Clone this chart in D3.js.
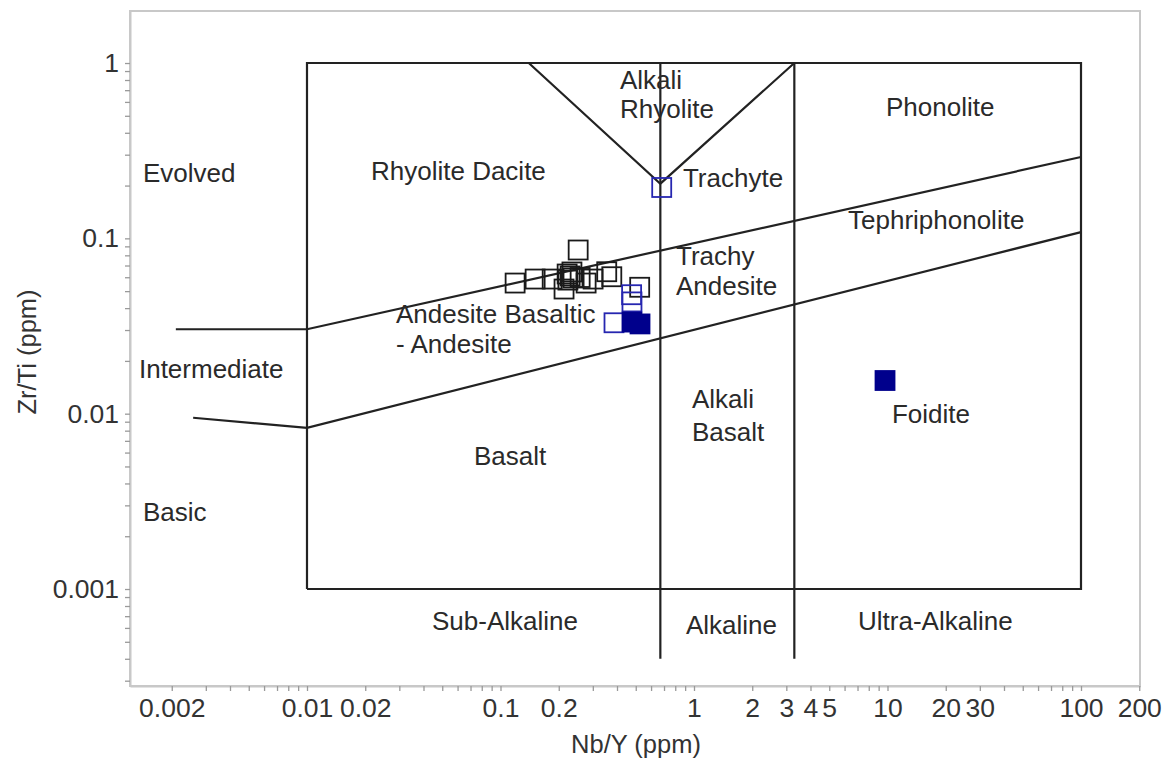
<!DOCTYPE html>
<html>
<head>
<meta charset="utf-8">
<script src="https://cdn.jsdelivr.net/npm/d3@7"></script>
<style>
  body { margin: 0; background: #fff; }
  svg { display: block; }
  text { font-family: "Liberation Sans", Arial, sans-serif; }
</style>
</head>
<body>
<svg id="chart" width="1165" height="767"></svg>
<script>
// Nb/Y vs Zr/Ti rock classification diagram (after Pearce, 1996)

// Axis tick labels
const xTickLabels = [0.002, 0.01, 0.02, 0.1, 0.2, 1, 2, 3, 4, 5, 10, 20, 30, 100, 200];
const yTickLabels = [0.001, 0.01, 0.1, 1];

// Samples: [Nb/Y, Zr/Ti]
const samplesOpenBlack = [
  [0.119, 0.0556], [0.151, 0.0586], [0.185, 0.0586], [0.213, 0.0514],
  [0.221, 0.0626], [0.229, 0.0610], [0.237, 0.0594], [0.223, 0.0578],
  [0.234, 0.0643], [0.252, 0.0858], [0.258, 0.0598], [0.277, 0.0556],
  [0.301, 0.0586], [0.354, 0.0645], [0.376, 0.0604], [0.524, 0.0526]
];
const samplesOpenBlue = [
  [0.681, 0.195], [0.476, 0.0477], [0.478, 0.0434], [0.386, 0.0330]
];
const samplesFilledBlue = [
  [0.478, 0.0333], [0.526, 0.0325], [9.71, 0.01546]
];

// Field boundaries: polylines in [Nb/Y, Zr/Ti]
const boundaries = [
  [[0.01, 0.001], [0.01, 1], [100, 1], [100, 0.001], [0.01, 0.001]],
  [[0.67, 1], [0.67, 0.0004]],
  [[3.3, 1], [3.3, 0.0004]],
  [[0.14, 1], [0.67, 0.205], [3.3, 1]],
  [[0.0021, 0.0303], [0.01, 0.0303], [100, 0.291]],
  [[0.00258, 0.00948], [0.01, 0.00831], [100, 0.1086]]
];

// Field names, anchored at their left edge: [text, Nb/Y, Zr/Ti]
const fieldNames = [
  ["Alkali", 0.4146, 0.800], ["Rhyolite", 0.4146, 0.5465],
  ["Phonolite", 9.82, 0.561],
  ["Evolved", 0.001421, 0.236],
  ["Rhyolite Dacite", 0.02141, 0.2421],
  ["Trachyte", 0.877, 0.2208],
  ["Tephriphonolite", 6.25, 0.1272],
  ["Trachy", 0.807, 0.0793], ["Andesite", 0.807, 0.0535],
  ["Andesite Basaltic", 0.02884, 0.037], ["- Andesite", 0.02884, 0.02495],
  ["Intermediate", 0.001354, 0.01798],
  ["Alkali", 0.9765, 0.01213], ["Basalt", 0.9765, 0.00786],
  ["Foidite", 10.55, 0.00996],
  ["Basalt", 0.07295, 0.00573],
  ["Basic", 0.001421, 0.002749],
  ["Sub-Alkaline", 0.04426, 0.000657],
  ["Alkaline", 0.909, 0.000623],
  ["Ultra-Alkaline", 7.04, 0.000657]
];

const svg = d3.select("#chart");
const plotLeft = 130, plotRight = 1140, plotTop = 11, plotBottom = 686;

const x = d3.scaleLog().domain([0.001217, 201.8]).range([plotLeft, plotRight]);
const y = d3.scaleLog().domain([0.0002798, 1.98]).range([plotBottom, plotTop]);

// tick marks at every 1..9 multiple inside the domain
function logTicks(scale) {
  const [a, b] = scale.domain();
  const out = [];
  for (let e = Math.floor(Math.log10(a)); e <= Math.ceil(Math.log10(b)); e++) {
    for (let m = 1; m <= 9; m++) {
      const v = +(m * Math.pow(10, e)).toPrecision(6);
      if (v >= a && v <= b) out.push(v);
    }
  }
  return out;
}
const labelFor = (list) => (d) => {
  const hit = list.find(v => Math.abs(v - d) / v < 1e-6);
  return hit === undefined ? "" : String(hit);
};

// outer frame
svg.append("rect")
  .attr("x", plotLeft).attr("y", plotTop)
  .attr("width", plotRight - plotLeft).attr("height", plotBottom - plotTop)
  .attr("fill", "none").attr("stroke", "#c8c8c8").attr("stroke-width", 2);

const gx = svg.append("g").attr("transform", `translate(0,${plotBottom})`)
  .call(d3.axisBottom(x).tickValues(logTicks(x)).tickFormat(labelFor(xTickLabels))
    .tickSizeInner(5).tickSizeOuter(0).tickPadding(7.5));
const gy = svg.append("g").attr("transform", `translate(${plotLeft},0)`)
  .call(d3.axisLeft(y).tickValues(logTicks(y)).tickFormat(labelFor(yTickLabels))
    .tickSizeInner(5).tickSizeOuter(0).tickPadding(6));

[gx, gy].forEach(g => {
  g.select(".domain").attr("stroke", "#c8c8c8").attr("stroke-width", 2);
  g.selectAll(".tick line").attr("stroke", "#9a9a9a").attr("stroke-width", 1.3);
  g.selectAll(".tick text").attr("fill", "#333")
    .style("font-size", "26.5px").style("font-family", "'Liberation Sans', Arial, sans-serif");
});

// axis titles
svg.append("text")
  .attr("x", 636).attr("y", 753)
  .attr("text-anchor", "middle").attr("fill", "#333")
  .style("font-size", "25.5px").text("Nb/Y (ppm)");
svg.append("text")
  .attr("transform", "translate(36,352) rotate(-90)")
  .attr("text-anchor", "middle").attr("fill", "#333")
  .style("font-size", "25.5px").text("Zr/Ti (ppm)");

// field boundaries
const line = d3.line().x(d => x(d[0])).y(d => y(d[1]));
svg.append("g").selectAll("path").data(boundaries).join("path")
  .attr("d", line)
  .attr("fill", "none").attr("stroke", "#222").attr("stroke-width", 2.2)
  .attr("stroke-linejoin", "miter");

// field names
svg.append("g").selectAll("text").data(fieldNames).join("text")
  .attr("x", d => x(d[1])).attr("y", d => y(d[2]))
  .attr("dy", "0.35em")
  .attr("fill", "#2a2a2a").style("font-size", "26px")
  .text(d => d[0]);

// samples
const size = 19;
function squares(data, stroke, fill) {
  svg.append("g").selectAll("rect").data(data).join("rect")
    .attr("x", d => x(d[0]) - size / 2).attr("y", d => y(d[1]) - size / 2)
    .attr("width", size).attr("height", size)
    .attr("fill", fill).attr("stroke", stroke).attr("stroke-width", 1.8);
}
squares(samplesOpenBlack, "#1a1a1a", "none");
squares(samplesOpenBlue, "#2626b0", "none");
squares(samplesFilledBlue, "#00008c", "#00008c");
</script>
</body>
</html>
